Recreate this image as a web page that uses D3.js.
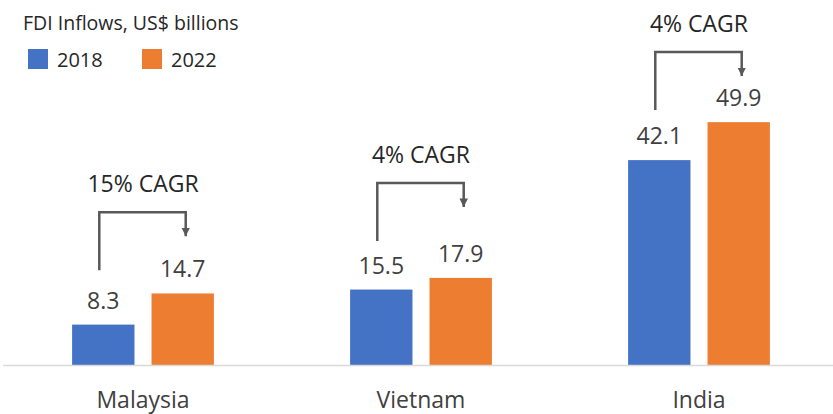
<!DOCTYPE html>
<meta charset="utf-8">
<style>
  body { margin: 0; background: #fff; }
  text { font-family: "Open Sans", "Noto Sans", sans-serif; }
</style>
<body>
<div id="chart"></div>
<script src="https://d3js.org/d3.v7.min.js"></script>
<script>
  // data
  var countries = ["Malaysia", "Vietnam", "India"];
  var years = ["2018", "2022"];
  var values2018 = [8.3, 15.5, 42.1];
  var values2022 = [14.7, 17.9, 49.9];
  var cagrLabels = ["15% CAGR", "4% CAGR", "4% CAGR"];
  var cagrLevel = [31.4, 37.4, 64.3]; // bracket height, in US$ bn units

  var colors = { "2018": "#4472C4", "2022": "#ED7D31" };

  var width = 833, height = 414;
  var baseY = 365;

  var svg = d3.select("#chart").append("svg")
    .attr("width", width)
    .attr("height", height);

  var x0 = d3.scaleBand()
    .domain(countries)
    .range([4, 838])
    .paddingInner(0.49)
    .paddingOuter(0.245);

  var x1 = d3.scaleBand()
    .domain(years)
    .range([0, x0.bandwidth()])
    .paddingInner(0.215);

  var y = d3.scaleLinear()
    .domain([0, 75])
    .range([baseY, 0]);

  // title
  svg.append("text")
    .attr("x", 23).attr("y", 30)
    .attr("font-size", 19.5)
    .attr("fill", "#262626")
    .text("FDI Inflows, US$ billions");

  // legend
  var legendX = [28, 142];
  years.forEach(function (yr, i) {
    svg.append("rect")
      .attr("x", legendX[i]).attr("y", 49)
      .attr("width", 20).attr("height", 20)
      .attr("fill", colors[yr]);
    svg.append("text")
      .attr("x", legendX[i] + 29).attr("y", 67)
      .attr("font-size", 20)
      .attr("fill", "#262626")
      .text(yr);
  });

  // bars
  var rows = countries.map(function (c, i) {
    return { country: c, vals: [
      { year: "2018", value: values2018[i] },
      { year: "2022", value: values2022[i] }
    ] };
  });

  var groups = svg.selectAll("g.grp")
    .data(rows)
    .enter().append("g")
    .attr("class", "grp")
    .attr("transform", function (d) { return "translate(" + x0(d.country) + ",0)"; });

  groups.selectAll("rect")
    .data(function (d) { return d.vals; })
    .enter().append("rect")
    .attr("x", function (d) { return x1(d.year); })
    .attr("y", function (d) { return y(d.value); })
    .attr("width", x1.bandwidth())
    .attr("height", function (d) { return baseY - y(d.value); })
    .attr("fill", function (d) { return colors[d.year]; });

  groups.selectAll("text.val")
    .data(function (d) { return d.vals; })
    .enter().append("text")
    .attr("class", "val")
    .attr("x", function (d) { return x1(d.year) + x1.bandwidth() / 2; })
    .attr("y", function (d) { return y(d.value) - 16; })
    .attr("text-anchor", "middle")
    .attr("font-size", 23)
    .attr("fill", "#404040")
    .text(function (d) { return d.value.toFixed(1); });

  // axis line
  svg.append("line")
    .attr("x1", 3).attr("x2", width)
    .attr("y1", baseY + 0.5).attr("y2", baseY + 0.5)
    .attr("stroke", "#d9d9d9")
    .attr("stroke-width", 1.5);

  // category labels
  svg.selectAll("text.cat")
    .data(countries)
    .enter().append("text")
    .attr("class", "cat")
    .attr("x", function (d) { return x0(d) + x0.bandwidth() / 2; })
    .attr("y", 408)
    .attr("text-anchor", "middle")
    .attr("font-size", 23)
    .attr("fill", "#404040")
    .text(function (d) { return d; });

  // CAGR brackets
  svg.append("defs").append("marker")
    .attr("id", "arrow")
    .attr("viewBox", "0 0 10 10")
    .attr("refX", 10).attr("refY", 5)
    .attr("markerWidth", 3.4).attr("markerHeight", 3.4)
    .attr("markerUnits", "strokeWidth")
    .attr("orient", "auto")
    .append("path")
    .attr("d", "M0,0 L10,5 L0,10 Z")
    .attr("fill", "#595959");

  countries.forEach(function (c, i) {
    var top = y(cagrLevel[i]);
    var xl = x0(c) + x1("2018") + x1.bandwidth() / 2 - 4;
    var xr = x0(c) + x1("2022") + x1.bandwidth() / 2 + 3;
    svg.append("path")
      .attr("d", "M" + xl + "," + (top + 58) + " V" + top + " H" + xr + " V" + (top + 24))
      .attr("fill", "none")
      .attr("stroke", "#595959")
      .attr("stroke-width", 2.5)
      .attr("marker-end", "url(#arrow)");
    svg.append("text")
      .attr("x", x0(c) + x0.bandwidth() / 2)
      .attr("y", top - 20)
      .attr("text-anchor", "middle")
      .attr("font-size", 23)
      .attr("fill", "#262626")
      .text(cagrLabels[i]);
  });
</script>
</body>
